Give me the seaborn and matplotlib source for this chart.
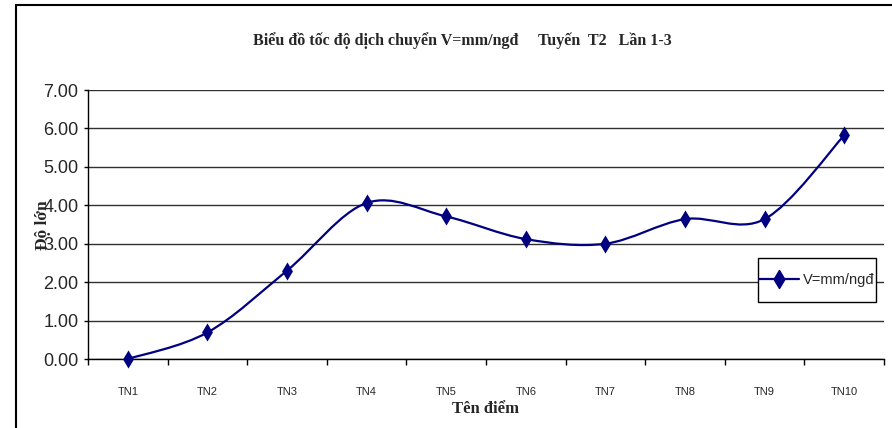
import numpy as np
import matplotlib
matplotlib.use("Agg")
import matplotlib.pyplot as plt
from matplotlib.path import Path
from matplotlib.patches import PathPatch, Rectangle
from matplotlib.lines import Line2D
from matplotlib.ticker import FixedLocator, FormatStrFormatter
import seaborn as sns
import pandas as pd

# Survey points along line T2 and their displacement speed (mm/day)
points = ["TN1", "TN2", "TN3", "TN4", "TN5", "TN6", "TN7", "TN8", "TN9", "TN10"]
speed = [0.00, 0.69, 2.30, 4.06, 3.71, 3.12, 3.00, 3.64, 3.64, 5.82]
y_ticks = [0, 1, 2, 3, 4, 5, 6, 7]

title = "Biểu đồ tốc độ dịch chuyển V=mm/ngđ     Tuyến  T2   Lần 1-3"
x_label = "Tên điểm"
y_label = "Độ lớn"
series_name = "V=mm/ngđ"

navy = "#000080"

sns.set_theme(style="white")
plt.rcParams["font.family"] = ["Liberation Sans", "DejaVu Sans"]

df = pd.DataFrame({"pos": np.arange(len(points)), "point": points, "speed": speed})

fig = plt.figure(figsize=(8.92, 4.28), dpi=100)
W, H = 892, 428
ax = fig.add_axes([88 / W, 1 - 359 / H, (884 - 88) / W, (359 - 90) / H])

# smoothed line through the points (cubic Bezier, Catmull-Rom style tangents)
xs = df["pos"].to_numpy(dtype=float)
ys = df["speed"].to_numpy(dtype=float)
pts = np.column_stack([xs, ys])
verts = [tuple(pts[0])]
codes = [Path.MOVETO]
n = len(pts)
for i in range(n - 1):
    p0 = pts[i - 1] if i > 0 else pts[i]
    p1 = pts[i]
    p2 = pts[i + 1]
    p3 = pts[i + 2] if i + 2 < n else pts[i + 1]
    c1 = p1 + (p2 - p0) / 6.0
    c2 = p2 - (p3 - p1) / 6.0
    verts += [tuple(c1), tuple(c2), tuple(p2)]
    codes += [Path.CURVE4] * 3
curve = PathPatch(Path(verts, codes), facecolor="none", edgecolor=navy,
                  lw=1.6, transform=ax.transData, zorder=3, clip_on=False)
ax.add_patch(curve)

# tall diamond markers at each survey point
diamond = Path(np.array([[0, 1.0], [0.6, 0], [0, -1.0], [-0.6, 0], [0, 1.0]]),
               [Path.MOVETO, Path.LINETO, Path.LINETO, Path.LINETO, Path.CLOSEPOLY])
sns.scatterplot(data=df, x="pos", y="speed", ax=ax, marker=diamond, s=170,
                color=navy, edgecolor=navy, linewidth=0, zorder=4,
                clip_on=False, legend=False)

ax.set_xlim(-0.5, len(points) - 0.5)
ax.set_ylim(0, 7)

# gridlines
for v in y_ticks:
    ax.axhline(v, color="#303030", lw=1.0, zorder=1)

ax.yaxis.set_major_locator(FixedLocator(y_ticks))
ax.yaxis.set_major_formatter(FormatStrFormatter("%.2f"))
ax.set_xticks(df["pos"])
ax.set_xticklabels(points, fontsize=8)
ax.xaxis.set_minor_locator(FixedLocator(np.arange(-0.5, len(points), 1.0)))
ax.tick_params(axis="x", which="major", length=0, pad=20)
ax.tick_params(axis="x", which="minor", length=4, width=1, color="black",
               direction="out", bottom=True)
ax.tick_params(axis="y", which="major", length=3, width=1, color="black",
               direction="out", left=True, labelsize=13, pad=4)

for side in ["top", "right"]:
    ax.spines[side].set_visible(False)
for side in ["left", "bottom"]:
    ax.spines[side].set_color("black")
    ax.spines[side].set_linewidth(1.0)

ax.set_xlabel(x_label, family="Liberation Serif", fontweight="bold",
              fontsize=12, labelpad=3)
ax.set_ylabel("")
fig.text(43 / W, 1 - 225 / H, y_label, rotation=90, ha="center", va="center",
         family="Liberation Serif", fontweight="bold", fontsize=12.5)

fig.text(462 / W, 1 - 41 / H, title, ha="center", va="center",
         family="Liberation Serif", fontweight="bold", fontsize=11.5)

# legend: entry without its own frame, boxed by a fixed rectangle
box_l, box_t, box_r, box_b = 758, 258, 876, 302
fig.patches.append(Rectangle((box_l / W, 1 - box_b / H), (box_r - box_l) / W,
                             (box_b - box_t) / H, transform=fig.transFigure,
                             facecolor="white", edgecolor="black", lw=1.0,
                             zorder=5))
handle = Line2D([], [], color=navy, lw=1.6, marker=diamond, markersize=13,
                markerfacecolor=navy, markeredgecolor=navy)
leg = fig.legend([handle], [series_name], loc="center",
                 bbox_to_anchor=((box_l + box_r) / 2 / W, 1 - (box_t + box_b) / 2 / H),
                 bbox_transform=fig.transFigure, frameon=False,
                 handlelength=2.7, handletextpad=0.3, borderpad=0.0,
                 borderaxespad=0, prop={"size": 10.5})
leg.set_zorder(6)

# outer chart border
fig.patches.append(Rectangle((16 / W, -0.1), 1.2, 1 - 5 / H + 0.1,
                             transform=fig.transFigure, fill=False,
                             edgecolor="black", lw=1.5))

fig.savefig("out.png", dpi=100, facecolor="white")
